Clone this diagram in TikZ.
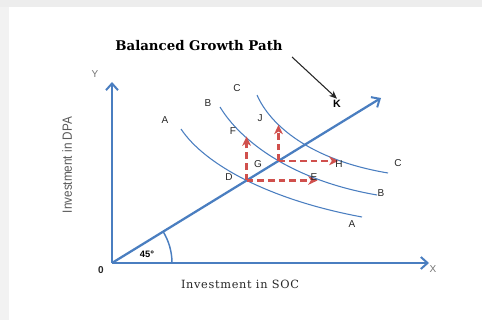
\documentclass[tikz,border=0pt]{standalone}
\usepackage{fontspec}
\setmainfont{DejaVu Serif}
\setsansfont{Liberation Sans}
\usetikzlibrary{arrows.meta, intersections, positioning}
\definecolor{axisblue}{HTML}{4A7EC0}
\definecolor{movered}{HTML}{D0504D}

\begin{document}
\begin{tikzpicture}[x=0.75pt, y=-0.75pt,
    axis/.style={draw=axisblue, line width=1.7pt, -{Straight Barb[length=5pt, width=9pt, line width=1.5pt]}},
    curve/.style={draw=axisblue, line width=0.8pt},
    move/.style={draw=movered, line width=1.7pt, dash pattern=on 5pt off 3pt, -{Stealth[length=7pt, width=6.5pt, inset=2pt]}},
    lbl/.style={font=\fontsize{7.5}{9}\sffamily, text=black!85, inner sep=1pt}]
    \useasboundingbox (0,0) rectangle (488,320);
    % Frame shadow
    \fill[black!7] (0,0) rectangle (482,7);
    \fill[black!5] (0,7) rectangle (9,320);

    % Axes
    \coordinate (O) at (112,263);
    \coordinate (xend) at (429,263);
    \coordinate (yend) at (112,82);
    \draw[axis] (O) -- (xend);
    \draw[axis] (O) -- (yend);
    \node[lbl, text=black!55] (X) at (433,269) {X};
    \node[lbl, text=black!55] (Y) at (95,74) {Y};
    \node[lbl, font=\fontsize{7.5}{9}\sffamily\bfseries] (zero) at (101,270) {0};
    \node[font=\fontsize{8.5}{10}\selectfont\addfontfeature{LetterSpace=6}, text=black!85] (xlab) at (240,284) {Investment in SOC};
    \node[rotate=90, font=\fontsize{10}{11}\sffamily, text=black!65] (ylab) at (67,165)
        {\scalebox{0.88}[1]{Investment in DPA}};

    % Balanced growth path
    \coordinate (pend) at (381,98);
    \draw[axis, name path=bgp] (O) -- (pend);
    \draw[axisblue, line width=1.1pt] ([shift={(60,0)}]O) arc[start angle=0, end angle=-31.6, radius=60];
    \node[font=\fontsize{7}{8}\sffamily\bfseries] (angle) at (147,254) {45°};

    % Isoquants
    \draw[curve, name path=curveA] (181,129) .. controls (205,165) and (270,200) .. (362,217);
    \draw[curve, name path=curveB] (220,107) .. controls (240,140) and (290,180) .. (377,195);
    \draw[curve, name path=curveC] (257,95) .. controls (270,125) and (310,160) .. (388,173);
    \node[lbl] (A1) at (165,120) {A};
    \node[lbl] (A2) at (352,224) {A};
    \node[lbl] (B1) at (208,103) {B};
    \node[lbl] (B2) at (381,193) {B};
    \node[lbl] (C1) at (237,88) {C};
    \node[lbl] (C2) at (398,163) {C};

    % Moves
    \path[name intersections={of=curveA and bgp, by=D}];
    \path[name intersections={of=curveB and bgp, by=G}];
    \path (D) ++(0,-44) coordinate (F);
    \path (D) ++(71,0) coordinate (E);
    \path (G) ++(0,-36) coordinate (J);
    \path (G) ++(60,0) coordinate (H);
    \draw[move] (D) -- (F);
    \draw[move] (D) -- (E);
    \draw[move] (G) -- (J);
    \draw[move] (G) -- (H);
    \node[lbl] (Dl) at (229,177) {D};
    \node[lbl] (Fl) at (233,131) {F};
    \node[lbl] (El) at (314,177) {E};
    \node[lbl] (Gl) at (258,164) {G};
    \node[lbl] (Jl) at (260,118) {J};
    \node[lbl] (Hl) at (339,164) {H};

    % Title and pointer
    \node[font=\fontsize{10}{11}\selectfont\bfseries] (title) at (199,46) {Balanced Growth Path};
    \node[lbl, font=\fontsize{8}{9}\sffamily\bfseries, text=black] (K) at (337,104) {K};
    \coordinate (ptr) at (292,57);
    \draw[black!85, line width=0.8pt, -{Stealth[length=6pt, width=5pt]}] (ptr) -- (K.north);
\end{tikzpicture}
\end{document}
